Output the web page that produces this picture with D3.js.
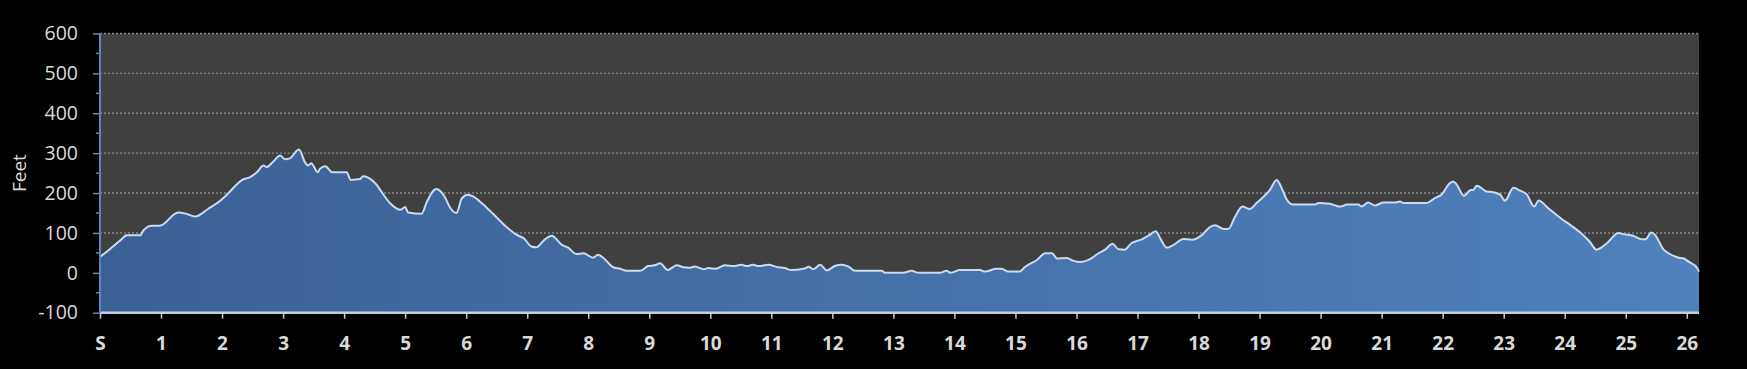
<!DOCTYPE html>
<html>
<head>
<meta charset="utf-8">
<script src="https://cdn.jsdelivr.net/npm/d3@7"></script>
<style>
  html, body { margin: 0; padding: 0; background: #000; }
  svg { display: block; }
</style>
</head>
<body>
<div id="chart"></div>
<script>
// Course elevation profile (miles vs feet)
const miles = [
  0, 0.16, 0.33, 0.44, 0.66, 0.71, 0.85, 0.98, 1.28, 1.39,
  1.56, 1.77, 1.99, 2.13, 2.32, 2.46, 2.57, 2.68, 2.73, 2.84,
  2.95, 3.03, 3.11, 3.26, 3.36, 3.41, 3.46, 3.57, 3.60, 3.69,
  3.81, 4.04, 4.11, 4.26, 4.31, 4.45, 4.53, 4.59, 4.75, 4.92,
  5.00, 5.05, 5.27, 5.35, 5.51, 5.65, 5.73, 5.84, 5.93, 6.03,
  6.12, 6.28, 6.44, 6.66, 6.83, 6.94, 7.07, 7.15, 7.29, 7.40,
  7.57, 7.67, 7.81, 7.92, 8.08, 8.16, 8.25, 8.41, 8.52, 8.63,
  8.85, 8.98, 9.09, 9.18, 9.30, 9.45, 9.56, 9.67, 9.75, 9.89,
  9.97, 10.08, 10.24, 10.38, 10.51, 10.60, 10.70, 10.79, 10.95, 11.11,
  11.22, 11.31, 11.55, 11.61, 11.69, 11.80, 11.91, 12.04, 12.15, 12.26,
  12.37, 12.81, 12.86, 13.16, 13.30, 13.41, 13.76, 13.87, 13.94, 14.09,
  14.42, 14.50, 14.69, 14.77, 14.88, 15.07, 15.15, 15.35, 15.49, 15.60,
  15.68, 15.84, 15.95, 16.06, 16.25, 16.36, 16.47, 16.59, 16.69, 16.79,
  16.90, 17.07, 17.18, 17.30, 17.37, 17.48, 17.59, 17.75, 17.89, 18.05,
  18.19, 18.27, 18.41, 18.49, 18.60, 18.72, 18.84, 18.95, 19.17, 19.28,
  19.36, 19.44, 19.55, 19.91, 19.96, 20.15, 20.32, 20.43, 20.62, 20.67,
  20.78, 20.89, 21.03, 21.22, 21.30, 21.36, 21.72, 21.76, 21.87, 21.98,
  22.12, 22.17, 22.23, 22.35, 22.45, 22.50, 22.56, 22.72, 22.83, 22.94,
  23.02, 23.16, 23.27, 23.38, 23.50, 23.57, 23.73, 23.95, 24.11, 24.30,
  24.41, 24.52, 24.69, 24.88, 24.96, 25.12, 25.26, 25.32, 25.42, 25.48,
  25.62, 25.70, 25.87, 25.95, 26.03, 26.17, 26.2
];
const feet = [
  40, 59, 81, 94, 94, 106, 118, 118, 151, 149,
  141, 160, 183, 204, 232, 240, 252, 269, 265, 279,
  294, 285, 287, 309, 277, 269, 275, 252, 260, 267,
  252, 252, 233, 235, 242, 233, 221, 208, 175, 158,
  165, 151, 148, 176, 210, 190, 165, 150, 187, 196,
  191, 171, 148, 115, 95, 87, 66, 64, 84, 93,
  70, 63, 47, 49, 38, 45, 37, 14, 10, 5,
  5, 17, 19, 24, 7, 19, 14, 13, 16, 9,
  12, 10, 19, 17, 20, 17, 20, 17, 20, 14,
  12, 7, 11, 15, 9, 20, 6, 17, 20, 16,
  5, 5, 0, 0, 5, 0, 0, 5, 0, 7,
  7, 3, 10, 10, 3, 3, 14, 32, 49, 49,
  36, 37, 30, 27, 37, 49, 58, 73, 59, 58,
  74, 84, 93, 104, 87, 63, 70, 85, 83, 94,
  115, 119, 110, 110, 141, 166, 160, 175, 208, 233,
  213, 185, 171, 171, 175, 173, 166, 171, 171, 166,
  176, 169, 176, 176, 179, 175, 175, 176, 187, 196,
  225, 229, 221, 193, 207, 208, 218, 204, 202, 196,
  181, 213, 206, 196, 166, 181, 162, 135, 118, 95,
  78, 58, 74, 100, 97, 93, 84, 84, 101, 95,
  58, 49, 38, 36, 28, 12, 3
];
const mileTicks = d3.range(0, 27);
const feetTicks = [-100, 0, 100, 200, 300, 400, 500, 600];
const feetMinorTicks = [-50, 50, 150, 250, 350, 450, 550];
const yLabel = 'Feet';

const width = 1747, height = 369;
const margin = { top: 33.5, right: 48, bottom: 56.3, left: 100 };
const innerW = width - margin.left - margin.right;
const innerH = height - margin.top - margin.bottom;

const data = miles.map((m, i) => ({ m, f: feet[i] }));

const x = d3.scaleLinear().domain([0, 26.2]).range([0, innerW]);
const y = d3.scaleLinear().domain([-100, 600]).range([innerH, 0]);

const svg = d3.select('#chart').append('svg')
  .attr('width', width)
  .attr('height', height);

const defs = svg.append('defs');
const grad = defs.append('linearGradient')
  .attr('id', 'area-grad')
  .attr('x1', '0%').attr('x2', '100%')
  .attr('y1', '0%').attr('y2', '0%');
grad.append('stop').attr('offset', '0%').attr('stop-color', '#3a6195');
grad.append('stop').attr('offset', '100%').attr('stop-color', '#5081bd');

const g = svg.append('g').attr('transform', `translate(${margin.left},${margin.top})`);

// plot background
g.append('rect')
  .attr('width', innerW)
  .attr('height', innerH)
  .attr('fill', '#404040');

// dotted grid
g.append('g')
  .selectAll('line')
  .data(feetTicks.filter(d => d > -100))
  .enter().append('line')
  .attr('x1', 0).attr('x2', innerW)
  .attr('y1', d => y(d)).attr('y2', d => y(d))
  .attr('stroke', '#858585')
  .attr('stroke-width', 1.4)
  .attr('stroke-dasharray', '2,2');

// elevation area + outline
const area = d3.area()
  .x(d => x(d.m))
  .y0(y(-100))
  .y1(d => y(d.f))
  .curve(d3.curveMonotoneX);
const line = d3.line()
  .x(d => x(d.m))
  .y(d => y(d.f))
  .curve(d3.curveMonotoneX);

g.append('path')
  .datum(data)
  .attr('d', area)
  .attr('fill', 'url(#area-grad)');

g.append('path')
  .datum(data)
  .attr('d', line)
  .attr('fill', 'none')
  .attr('stroke', '#c9dbf2')
  .attr('stroke-width', 2)
  .attr('stroke-linejoin', 'round');

// x axis
const xAxis = g.append('g')
  .attr('transform', `translate(0,${innerH})`)
  .call(d3.axisBottom(x)
    .tickValues(mileTicks)
    .tickSize(6)
    .tickFormat(d => d === 0 ? 'S' : String(d)));
xAxis.select('.domain')
  .attr('stroke', '#c3cddb')
  .attr('stroke-width', 2.5)
  .attr('d', `M0,0H${innerW}`);
xAxis.selectAll('.tick line')
  .attr('stroke', '#c3cddb')
  .attr('stroke-width', 1.5);
xAxis.selectAll('.tick text')
  .attr('y', 31)
  .attr('dy', '0.35em')
  .attr('fill', '#d9d9d9')
  .attr('font-family', '"Open Sans", sans-serif')
  .attr('font-weight', 'bold')
  .attr('font-size', '19px');

// y axis
const yAxis = g.append('g')
  .call(d3.axisLeft(y)
    .tickValues(feetTicks)
    .tickSize(7)
    .tickPadding(15)
    .tickFormat(d => String(d)));
yAxis.select('.domain')
  .attr('stroke', '#5f86c0')
  .attr('stroke-width', 2)
  .attr('d', `M0,0V${innerH}`);
yAxis.selectAll('.tick line')
  .attr('stroke', '#5f86c0')
  .attr('stroke-width', 1.5);
yAxis.selectAll('.tick text')
  .attr('fill', '#d9d9d9')
  .attr('font-family', '"Open Sans", sans-serif')
  .attr('font-size', '19.5px');

g.append('g')
  .selectAll('line')
  .data(feetMinorTicks)
  .enter().append('line')
  .attr('x1', -4).attr('x2', 0)
  .attr('y1', d => y(d)).attr('y2', d => y(d))
  .attr('stroke', '#5f86c0')
  .attr('stroke-width', 1.5);

// y label
svg.append('text')
  .attr('transform', `translate(19,${margin.top + innerH / 2}) rotate(-90)`)
  .attr('text-anchor', 'middle')
  .attr('dy', '0.35em')
  .attr('fill', '#d9d9d9')
  .attr('font-family', '"Open Sans", sans-serif')
  .attr('font-size', '19px')
  .text(yLabel);
</script>
</body>
</html>
